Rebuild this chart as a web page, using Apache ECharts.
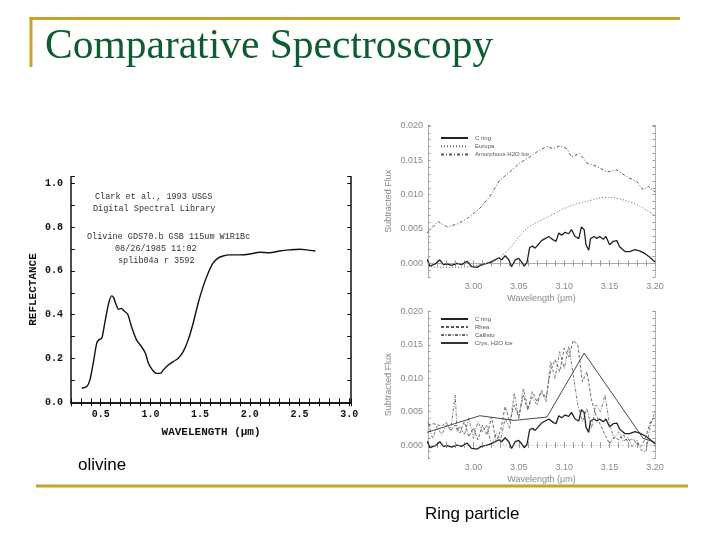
<!DOCTYPE html>
<html>
<head>
<meta charset="utf-8">
<script src="https://cdn.jsdelivr.net/npm/echarts@6/dist/echarts.min.js"></script>
<style>
  html, body {margin: 0; padding: 0; background: #fff;}
  #chart {width: 720px; height: 540px;}
</style>
</head>
<body>
<div id="chart"></div>
<script>
// olivine reflectance spectrum (USGS library plot)
const olivineWl = [0.31, 0.36, 0.39, 0.43, 0.46, 0.48, 0.51, 0.54, 0.58, 0.61, 0.63, 0.65, 0.68, 0.71, 0.73, 0.77,
  0.81, 0.86, 0.91, 0.95, 0.98, 1.02, 1.06, 1.10, 1.13, 1.18, 1.23, 1.28, 1.33, 1.38, 1.43, 1.48, 1.53, 1.58,
  1.63, 1.68, 1.73, 1.80, 1.90, 2.00, 2.10, 2.20, 2.30, 2.40, 2.50, 2.57, 2.66]
const olivineR = [0.064, 0.072, 0.10, 0.193, 0.27, 0.285, 0.292, 0.36, 0.452, 0.486, 0.478, 0.452, 0.425, 0.429,
  0.419, 0.403, 0.345, 0.285, 0.254, 0.224, 0.178, 0.148, 0.132, 0.132, 0.148, 0.170, 0.186, 0.201, 0.231, 0.285,
  0.361, 0.452, 0.528, 0.589, 0.635, 0.658, 0.668, 0.673, 0.673, 0.677, 0.685, 0.683, 0.691, 0.696, 0.699,
  0.696, 0.691]

// C ring spectrum (same in both ring panels)
const cRingWl = [2.949, 2.952, 2.958, 2.963, 2.967, 2.971, 2.976, 2.982, 2.987, 2.993, 2.998, 3.004, 3.009, 3.015,
  3.020, 3.024, 3.028, 3.031, 3.035, 3.039, 3.042, 3.046, 3.050, 3.053, 3.056, 3.059, 3.062, 3.065, 3.068, 3.072,
  3.075, 3.079, 3.083, 3.085, 3.088, 3.091, 3.094, 3.097, 3.101, 3.105, 3.108, 3.112, 3.116, 3.119, 3.122, 3.124,
  3.127, 3.129, 3.133, 3.136, 3.139, 3.143, 3.146, 3.150, 3.154, 3.158, 3.161, 3.167, 3.172, 3.178, 3.183, 3.189,
  3.194, 3.200]
const cRingFlux = [0.0006, -0.0004, -0.0001, 0.0005, -0.0002, -0.0001, -0.0003, 0, -0.0002, 0.0003, -0.0005,
  -0.0006, -0.0002, 0, 0.0002, 0.0005, 0.0008, 0.0005, 0.0011, 0.0005, -0.0005, 0.0005, 0.0007, 0.0002, -0.0004,
  0.0001, 0.0023, 0.0025, 0.0022, 0.0028, 0.0033, 0.0036, 0.0039, 0.0041, 0.0034, 0.0032, 0.0044, 0.0041, 0.0045,
  0.0043, 0.0049, 0.0039, 0.0036, 0.0053, 0.0049, 0.0027, 0.0019, 0.0036, 0.0039, 0.0036, 0.0039, 0.0035, 0.0039,
  0.0027, 0.0032, 0.0033, 0.0024, 0.0017, 0.0017, 0.0020, 0.0018, 0.0014, 0.0009, 0.0002]

const europaWl = [2.950, 2.975, 3.000, 3.020, 3.035, 3.050, 3.060, 3.075, 3.090, 3.100, 3.115, 3.130, 3.145,
  3.160, 3.175, 3.190, 3.200]
const europaFlux = [-0.0005, -0.0006, -0.0004, 0.0003, 0.0015, 0.0038, 0.0052, 0.0063, 0.0073, 0.0080, 0.0087,
  0.0092, 0.0096, 0.0094, 0.0088, 0.0078, 0.0069]

const amorphWl = [2.949, 2.961, 2.971, 2.982, 2.993, 3.007, 3.018, 3.029, 3.040, 3.051, 3.062, 3.073, 3.081,
  3.088, 3.095, 3.103, 3.108, 3.117, 3.125, 3.136, 3.147, 3.158, 3.169, 3.180, 3.187, 3.193, 3.200]
const amorphFlux = [0.0044, 0.0061, 0.0053, 0.0057, 0.0065, 0.0080, 0.0097, 0.0121, 0.0133, 0.0146, 0.0155,
  0.0165, 0.0170, 0.0167, 0.0171, 0.0167, 0.0155, 0.0160, 0.0146, 0.0141, 0.0133, 0.0136, 0.0126, 0.0119,
  0.0107, 0.0112, 0.0104]

const rheaWl = [2.950, 2.955, 2.960, 2.965, 2.970, 2.975, 2.980, 2.985, 2.990, 2.995, 3.000, 3.005, 3.010, 3.015,
  3.020, 3.025, 3.030, 3.035, 3.040, 3.045, 3.050, 3.055, 3.060, 3.065, 3.070, 3.075, 3.080, 3.085, 3.090, 3.095,
  3.100, 3.105, 3.110, 3.115, 3.120, 3.125, 3.130, 3.135, 3.140, 3.145, 3.150, 3.155, 3.160, 3.165, 3.170, 3.175,
  3.180, 3.185, 3.190, 3.195, 3.200]
const rheaFlux = [0.0030, 0.0032, 0.0031, 0.0028, 0.0034, 0.0022, 0.0030, 0.0018, 0.0035, 0.0012, 0.0026, 0.0008,
  0.0030, 0.0015, 0.0042, 0.0005, 0.0022, 0.0058, 0.0035, 0.0060, 0.0042, 0.0075, 0.0052, 0.0080, 0.0065, 0.0082,
  0.0070, 0.0112, 0.0128, 0.0110, 0.0145, 0.0132, 0.0157, 0.0150, 0.0095, 0.0110, 0.0068, 0.0045, 0.0030, 0.0015,
  0.0002, 0.0012, 0.0008, 0.0016, 0.0005, 0.0010, 0.0002, -0.0002, 0.0012, 0.0035, 0.0042]

const callistoWl = [2.950, 2.955, 2.960, 2.965, 2.970, 2.975, 2.980, 2.982, 2.985, 2.990, 2.995, 3.000, 3.005,
  3.010, 3.015, 3.020, 3.025, 3.030, 3.035, 3.040, 3.045, 3.050, 3.055, 3.060, 3.065, 3.070, 3.075, 3.080, 3.085,
  3.090, 3.095, 3.100, 3.105, 3.110, 3.115, 3.120, 3.125, 3.130, 3.135, 3.140, 3.145, 3.150, 3.155, 3.160, 3.165,
  3.170, 3.175, 3.180, 3.185, 3.190, 3.195, 3.200]
const callistoFlux = [0.0035, 0.0010, 0.0028, 0.0015, 0.0030, 0.0022, 0.0075, 0.0020, 0.0028, 0.0015, 0.0040,
  0.0010, 0.0035, 0.0020, 0.0030, -0.0002, 0.0018, 0.0008, 0.0040, 0.0025, 0.0078, 0.0040, 0.0085, 0.0055, 0.0072,
  0.0060, 0.0080, 0.0065, 0.0125, 0.0100, 0.0140, 0.0115, 0.0148, 0.0105, 0.0060, 0.0035, 0.0055, 0.0025, 0.0060,
  0.0050, 0.0075, 0.0030, 0.0010, 0.0020, 0.0005, 0.0012, -0.0003, 0.0008, -0.0008, -0.0010, 0.0030, 0.0050]

const crysWl = [2.949, 3.007, 3.045, 3.081, 3.122, 3.187, 3.200]
const crysFlux = [0.0019, 0.0044, 0.0037, 0.0042, 0.0138, 0.0010, 0.0004]

const topLegend = ['C ring', 'Europa', 'Amorphous H2O Ice']
const botLegend = ['C ring', 'Rhea', 'Callisto', 'Crys. H2O Ice']

const pairs = (xs, ys) => xs.map((x, i) => [x, ys[i]])
const near = (v, step) => Math.abs(v / step - Math.round(v / step)) < 1e-6

const gold = '#c9a22c'
const monoText = {fontFamily: 'Liberation Mono', fontWeight: 'bold', color: '#111'}
const grayAxis = '#9a9a9a'

// left (olivine) panel axes
const leftX = {
  gridIndex: 0, type: 'value', min: 0.2, max: 3.02, interval: 0.1,
  name: 'WAVELENGTH (\u03bcm)', nameLocation: 'middle', nameGap: 24,
  nameTextStyle: {...monoText, fontSize: 11},
  axisLine: {show: true, lineStyle: {color: '#111', width: 1.5}}, splitLine: {show: false},
  axisTick: {inside: true, length: 4, lineStyle: {color: '#111'}},
  axisLabel: {...monoText, fontSize: 10, margin: 7,
    formatter: v => (near(v, 0.5) && v > 0.4 && v < 3.01) ? v.toFixed(1) : ''}
}
const leftY = {
  gridIndex: 0, type: 'value', min: 0, max: 1.03, interval: 0.1,
  name: 'REFLECTANCE', nameLocation: 'middle', nameGap: 32, nameRotate: 90,
  nameTextStyle: {...monoText, fontSize: 11},
  axisLine: {show: true, lineStyle: {color: '#111', width: 1.5}}, splitLine: {show: false},
  axisTick: {inside: true, length: 4, lineStyle: {color: '#111'}},
  axisLabel: {...monoText, fontSize: 10, margin: 8,
    formatter: v => (near(v, 0.2) && v < 1.01) ? v.toFixed(1) : ''}
}

// ring panel axes
const ringX = (gi) => ({
  gridIndex: gi, type: 'value', min: 2.95, max: 3.20, interval: 0.01,
  name: 'Wavelength (\u03bcm)', nameLocation: 'middle', nameGap: 17,
  nameTextStyle: {fontFamily: 'Liberation Sans', fontSize: 9, color: '#888'},
  axisLine: {show: false}, splitLine: {show: false},
  axisTick: {inside: true, length: 3, lineStyle: {color: grayAxis}},
  axisLabel: {fontFamily: 'Liberation Sans', fontSize: 9, color: '#888', margin: 5,
    formatter: v => (near(v, 0.05) && v > 2.96) ? v.toFixed(2) : ''}
})
const ringY = (gi) => ({
  gridIndex: gi, type: 'value', min: -0.002, max: 0.0201, interval: 0.001,
  name: 'Subtracted Flux', nameLocation: 'middle', nameGap: 35, nameRotate: 90,
  nameTextStyle: {fontFamily: 'Liberation Sans', fontSize: 9, color: '#888'},
  axisLine: {lineStyle: {color: grayAxis, width: 0.8}}, splitLine: {show: false},
  axisTick: {inside: true, length: 2.5, lineStyle: {color: grayAxis}},
  axisLabel: {fontFamily: 'Liberation Sans', fontSize: 9, color: '#888', margin: 5,
    formatter: v => (near(v, 0.005) && v > -0.0001 && v < 0.0201) ? v.toFixed(3) : ''}
})
// mirrored axes close the frame on the top and right sides
const boxX = (base, color, w) => ({...base, position: 'top', name: '', axisLabel: {show: false},
  axisLine: {show: true, lineStyle: {color, width: w}}})
const boxY = (base, color, w) => ({...base, position: 'right', name: '', axisLabel: {show: false},
  axisLine: {show: true, lineStyle: {color, width: w}}})

const zeroLine = {
  silent: true, symbol: 'none', label: {show: false},
  lineStyle: {color: '#aaa', type: [1, 2], width: 0.8},
  data: [{yAxis: 0}]
}

const ringLine = (name, xi, yi, xs, ys, style, extra) => ({
  name, type: 'line', xAxisIndex: xi, yAxisIndex: yi, data: pairs(xs, ys),
  symbol: 'none', lineStyle: style, itemStyle: {color: style.color}, ...extra
})

const legendText = {fontFamily: 'Liberation Sans', fontSize: 6, color: '#555', padding: [0, 0, 0, 2]}

const chart = echarts.init(document.getElementById('chart'))
chart.setOption({
  backgroundColor: '#fff',
  animation: false,
  grid: [
    {left: 70.9, top: 176.7, width: 280.3, height: 225.6},
    {left: 428, top: 125.3, width: 227, height: 151.7},
    {left: 428, top: 311, width: 227, height: 147.4}
  ],
  xAxis: [leftX, boxX(leftX, '#111', 1.5), ringX(1), boxX(ringX(1), grayAxis, 0.8),
    ringX(2), boxX(ringX(2), grayAxis, 0)],
  yAxis: [leftY, boxY(leftY, '#111', 1.5), ringY(1), boxY(ringY(1), grayAxis, 0.8),
    ringY(2), boxY(ringY(2), grayAxis, 0.8)],
  legend: [
    {data: topLegend, orient: 'vertical', left: 435, top: 130, itemWidth: 27, itemHeight: 4, itemGap: 2.3,
      selectedMode: false, itemStyle: {opacity: 0}, textStyle: legendText},
    {data: botLegend, orient: 'vertical', left: 435, top: 311, itemWidth: 27, itemHeight: 3, itemGap: 2,
      selectedMode: false, itemStyle: {opacity: 0}, textStyle: legendText}
  ],
  series: [
    {
      type: 'line', xAxisIndex: 0, yAxisIndex: 0, data: pairs(olivineWl, olivineR),
      smooth: 0.3, symbol: 'none', lineStyle: {color: '#111', width: 1.4}
    },
    ringLine('C ring', 2, 2, cRingWl, cRingFlux, {color: '#222', width: 1.3}, {markLine: zeroLine}),
    ringLine('Europa', 2, 2, europaWl, europaFlux, {color: '#666', width: 1, type: [1, 2]}, {smooth: 0.4}),
    ringLine('Amorphous H2O Ice', 2, 2, amorphWl, amorphFlux, {color: '#555', width: 1, type: [3, 2, 1, 2]}),
    ringLine('C ring', 4, 4, cRingWl, cRingFlux, {color: '#222', width: 1.3}, {markLine: zeroLine}),
    ringLine('Rhea', 4, 4, rheaWl, rheaFlux, {color: '#555', width: 0.9, type: [3, 2]}),
    ringLine('Callisto', 4, 4, callistoWl, callistoFlux, {color: '#666', width: 0.9, type: [3, 1.5, 1, 1.5]}),
    ringLine('Crys. H2O Ice', 4, 4, crysWl, crysFlux, {color: '#333', width: 0.9})
  ],
  graphic: [
    // slide frame
    {type: 'rect', shape: {x: 29.5, y: 17, width: 650.5, height: 3}, style: {fill: gold}},
    {type: 'rect', shape: {x: 29.5, y: 17, width: 3, height: 50}, style: {fill: gold}},
    {type: 'rect', shape: {x: 36, y: 484.5, width: 652, height: 3}, style: {fill: gold}},
    {type: 'text', left: 45, top: 26, style: {text: 'Comparative Spectroscopy',
      font: '41.5px "Liberation Serif"', fill: '#0e5c32'}},
    {type: 'text', left: 78, top: 457, style: {text: 'olivine', font: '17px "Liberation Sans"', fill: '#000'}},
    {type: 'text', left: 425, top: 506, style: {text: 'Ring particle', font: '17px "Liberation Sans"', fill: '#000'}},
    // USGS plot header text
    {type: 'text', left: 95, top: 192, style: {text: 'Clark et al., 1993 USGS',
      font: '8.5px "Liberation Mono"', fill: '#333'}},
    {type: 'text', left: 93, top: 204, style: {text: 'Digital Spectral Library',
      font: '8.5px "Liberation Mono"', fill: '#333'}},
    {type: 'text', left: 87, top: 232, style: {text: 'Olivine GDS70.b GSB 115um W1R1Bc',
      font: '8.5px "Liberation Mono"', fill: '#333'}},
    {type: 'text', left: 115, top: 244, style: {text: '08/26/1985 11:02',
      font: '8.5px "Liberation Mono"', fill: '#333'}},
    {type: 'text', left: 118, top: 256, style: {text: 'splib04a r 3592',
      font: '8.5px "Liberation Mono"', fill: '#333'}}
  ]
})
</script>
</body>
</html>
